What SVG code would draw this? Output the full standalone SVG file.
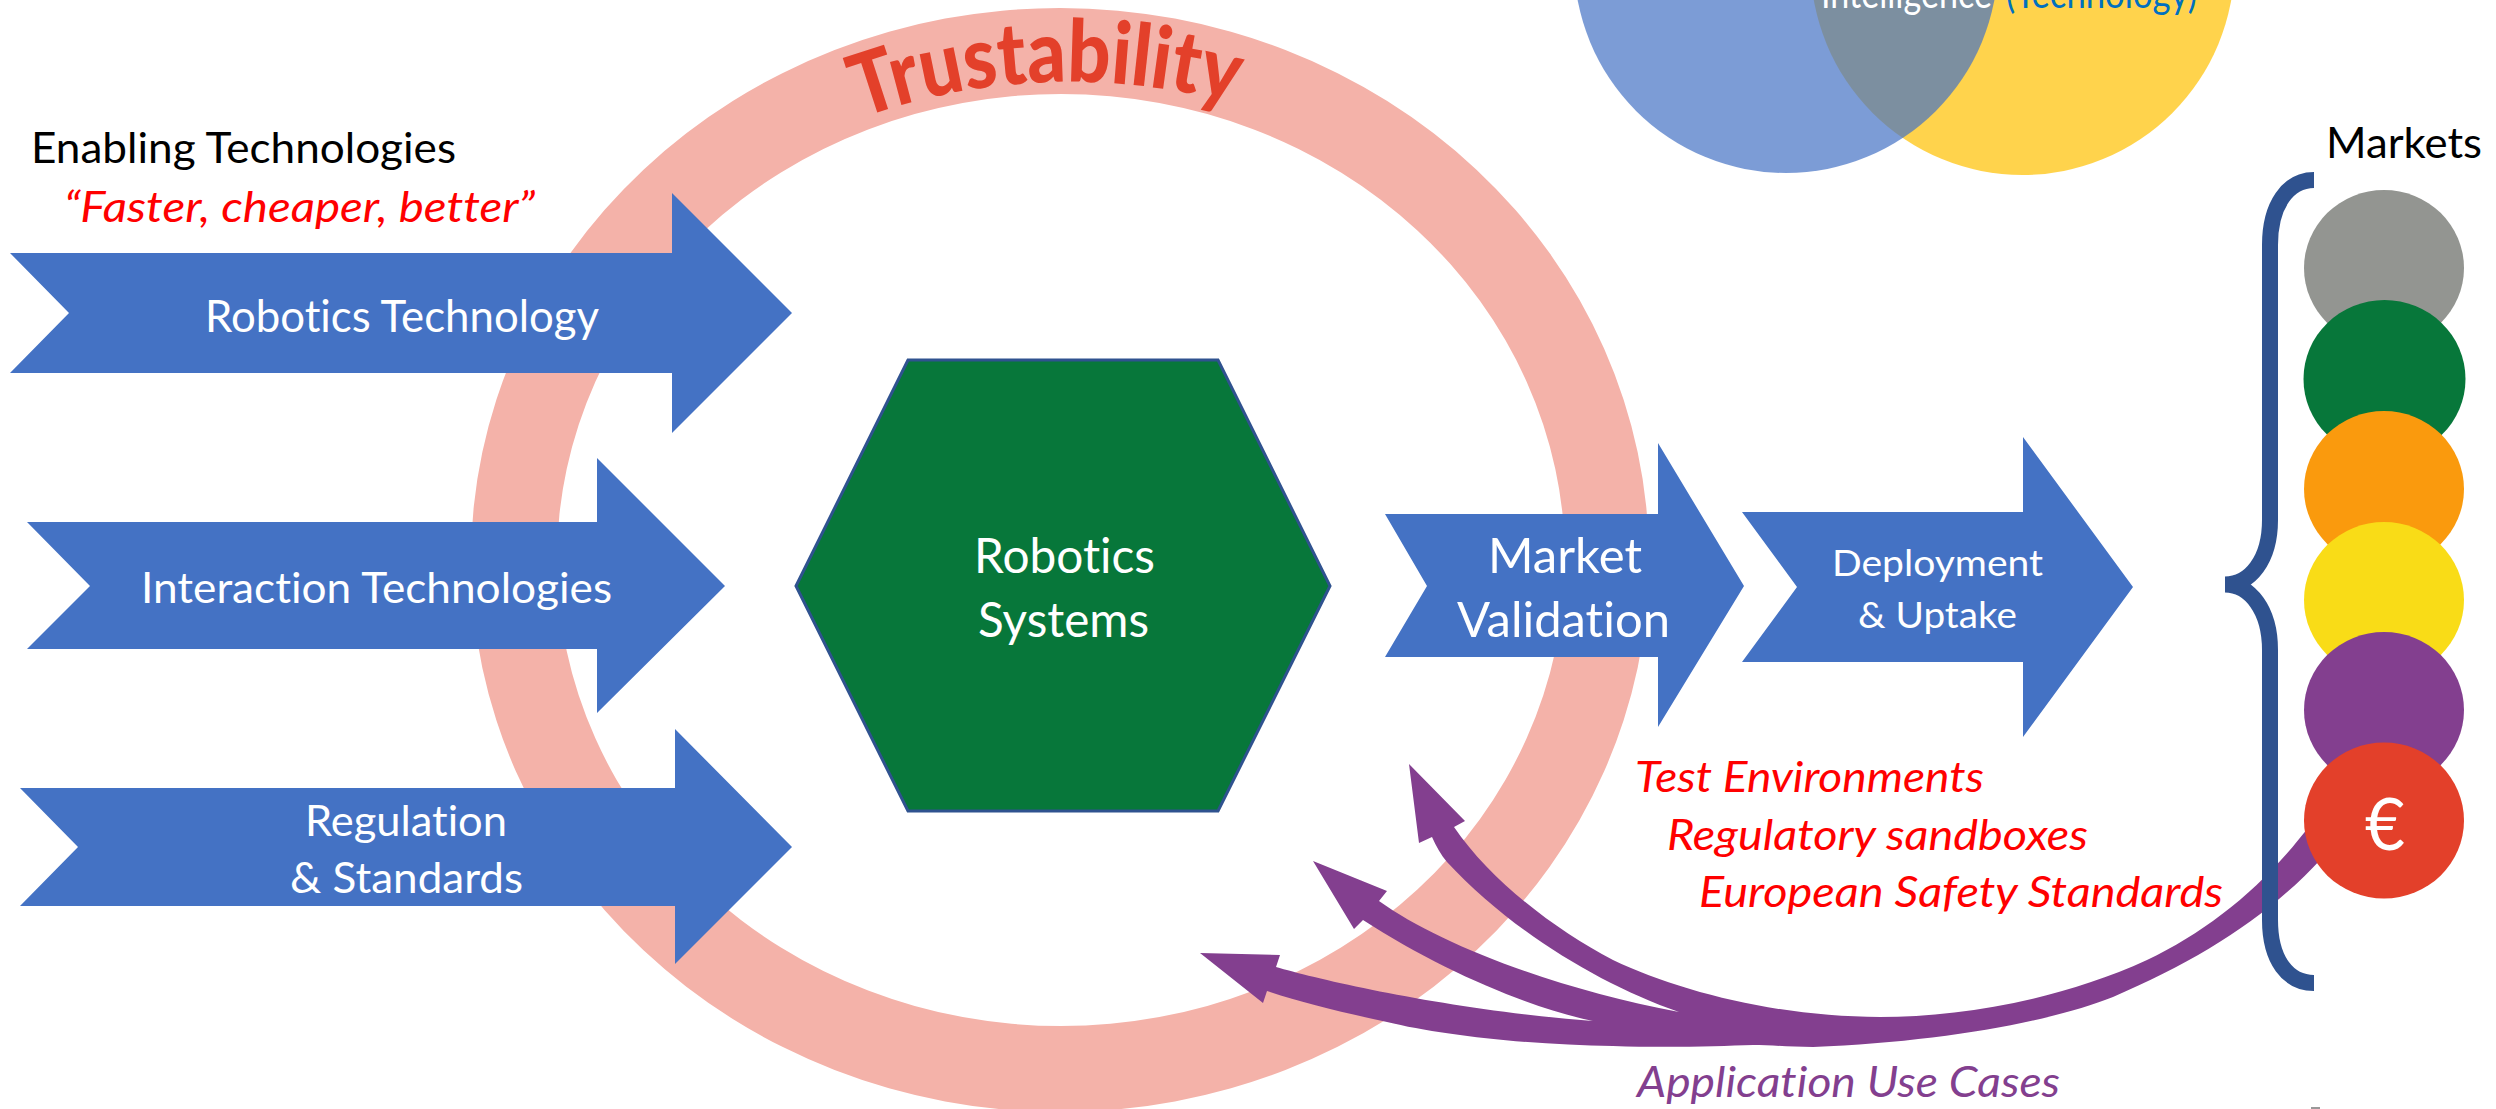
<svg xmlns="http://www.w3.org/2000/svg" xmlns:xlink="http://www.w3.org/1999/xlink" width="2496" height="1109" viewBox="0 0 2496 1109">
<style>
text{font-family:"Lato","Liberation Sans",sans-serif;font-variant-ligatures:none}
.w{fill:#fff}
.r{fill:#f00;font-style:italic}
.k{fill:#000}
.arrow{fill:#4472C4}
.f40{font-size:42px}
.f41{font-size:43px}
.f46{font-size:48px}
.f36{font-size:37.500px}
.v{font-size:40px}
.mk{stroke:none}
</style>
<defs>
<path id="arc" d="M861 118 Q1045 52 1246 106"/>
</defs>
<rect width="2496" height="1109" fill="#fff"/>
<g id="ring">
<path fill="#F4B2A9" fill-rule="evenodd" d="M471 560A589 552 0 0 1 1649 560A589 552 0 0 1 471 560ZM557 560A504 466 0 0 0 1565 560A504 466 0 0 0 557 560Z"/>
<text fill="#E3402A" font-size="86" font-weight="900"><textPath xlink:href="#arc" href="#arc" startOffset="0" textLength="380" lengthAdjust="spacingAndGlyphs">Trustability</textPath></text>
</g>
<g id="venn">
<circle cx="2022.5" cy="-37" r="212" fill="#FFC000" fill-opacity=".7"/>
<circle cx="1786" cy="-39" r="212" fill="#4472C4" fill-opacity=".7"/>
<text class="w v" x="1821" y="8" textLength="171" lengthAdjust="spacingAndGlyphs">Intelligence</text>
<text class="v" fill="#0070C0" x="2006" y="8" textLength="191" lengthAdjust="spacingAndGlyphs">(Technology)</text>
</g>
<g id="enabling-label">
<text class="k f40" x="31" y="162.500" textLength="425" lengthAdjust="spacingAndGlyphs">Enabling Technologies</text>
<text class="r f40" x="64" y="222" textLength="471" lengthAdjust="spacingAndGlyphs">“Faster, cheaper, better”</text>
</g>
<g id="robotics-technology">
<polygon class="arrow" points="10,253 672,253 672,193 792,313 672,433 672,373 10,373 69,313"/>
<text class="w" font-size="44" x="205" y="331.500" textLength="394" lengthAdjust="spacingAndGlyphs">Robotics Technology</text>
</g>
<g id="interaction-technologies">
<polygon class="arrow" points="27,522 597,522 597,458 725,586 597,713 597,649 27,649 90,586"/>
<text class="w f41" x="141" y="602.500" textLength="471" lengthAdjust="spacingAndGlyphs">Interaction Technologies</text>
</g>
<g id="regulation-standards">
<polygon class="arrow" points="20,788 675,788 675,729 792,847 675,964 675,906 20,906 78,847"/>
<text class="w f41" x="305" y="835.500" textLength="202" lengthAdjust="spacingAndGlyphs">Regulation</text>
<text class="w f41" x="290" y="892.500" textLength="233" lengthAdjust="spacingAndGlyphs">&amp; Standards</text>
</g>
<g id="robotics-systems">
<polygon fill="#07773A" stroke="#2F528F" stroke-width="3" points="796,586 908,360 1218,360 1330,586 1218,811 908,811"/>
<text class="w f46" x="974" y="573" textLength="181" lengthAdjust="spacingAndGlyphs">Robotics</text>
<text class="w f46" x="978" y="636.500" textLength="171" lengthAdjust="spacingAndGlyphs">Systems</text>
</g>
<g id="market-validation">
<polygon class="arrow" points="1385,514 1658,514 1658,443 1744,586 1658,727 1658,657 1385,657 1427,586"/>
<text class="w f46" x="1488" y="572.500" textLength="154" lengthAdjust="spacingAndGlyphs">Market</text>
<text class="w f46" x="1457" y="636.500" textLength="213" lengthAdjust="spacingAndGlyphs">Validation</text>
</g>
<g id="deployment-uptake">
<polygon class="arrow" points="1742,512 2023,512 2023,437 2133,587 2023,737 2023,662 1742,662 1797,587"/>
<text class="w f36" x="1832" y="576" textLength="211" lengthAdjust="spacingAndGlyphs">Deployment</text>
<text class="w f36" x="1858" y="628" textLength="159" lengthAdjust="spacingAndGlyphs">&amp; Uptake</text>
</g>
<g id="validation-label">
<text class="r f40" x="1635" y="792" textLength="349" lengthAdjust="spacingAndGlyphs">Test Environments</text>
<text class="r f40" x="1667" y="849.500" textLength="421" lengthAdjust="spacingAndGlyphs">Regulatory sandboxes</text>
<text class="r f40" x="1699" y="907" textLength="524" lengthAdjust="spacingAndGlyphs">European Safety Standards</text>
</g>
<g id="connectors">
<path fill="#833F8F" d="M1409 764L1465 821L1454 827C1490 880 1555 930 1613 960C1680 992 1780 1017 1880 1017C1960 1017 2060 1000 2147 960C2210 930 2265 885 2310 825L2322 858C2270 915 2200 960 2113 997C2050 1022 1940 1042 1813 1047C1790 1047 1770 1045 1753 1045C1720 1046 1670 1048 1613 1046C1530 1045 1440 1035 1387 1022C1340 1012 1300 1002 1267 991L1263 1003L1200 953L1280 955L1276 967C1320 980 1450 1010 1593 1021C1530 1008 1440 970 1363 920L1354 929L1313 861L1387 891L1379 901C1440 945 1560 990 1679 1012C1600 985 1510 930 1447 862C1441 855 1436 846 1432 837L1419 843Z"/>
</g>
<g id="use-cases-label">
<text class="f40" fill="#833F8F" font-style="italic" x="1637" y="1097" textLength="423" lengthAdjust="spacingAndGlyphs">Application Use Cases</text>
</g>
<g id="markets">
<text class="k f41" x="2326" y="158" textLength="156" lengthAdjust="spacingAndGlyphs">Markets</text>
<path fill="none" stroke="#2F528F" stroke-width="16" d="M2314 180C2288 180 2270 205 2270 245L2270 520C2270 560 2250 584.500 2225 584.500C2250 584.500 2270 610 2270 650L2270 920C2270 960 2288 983 2314 983"/>
<ellipse class="mk" cx="2384" cy="268" rx="80" ry="78" fill="#939591"/>
<ellipse class="mk" cx="2384.500" cy="379" rx="81" ry="79" fill="#07773A"/>
<ellipse class="mk" cx="2384" cy="489" rx="80" ry="78" fill="#FA9A0D"/>
<ellipse class="mk" cx="2384" cy="600" rx="80" ry="78" fill="#F9DC17"/>
<ellipse class="mk" cx="2384" cy="710" rx="80" ry="78" fill="#833F8F"/>
<ellipse class="mk" cx="2384" cy="820.500" rx="80" ry="78" fill="#E3402A"/>
<text class="w" font-size="72" x="2365" y="850" textLength="40" lengthAdjust="spacingAndGlyphs">€</text>
<rect x="2311" y="1107" width="9" height="2" fill="#999"/>
</g>
</svg>
